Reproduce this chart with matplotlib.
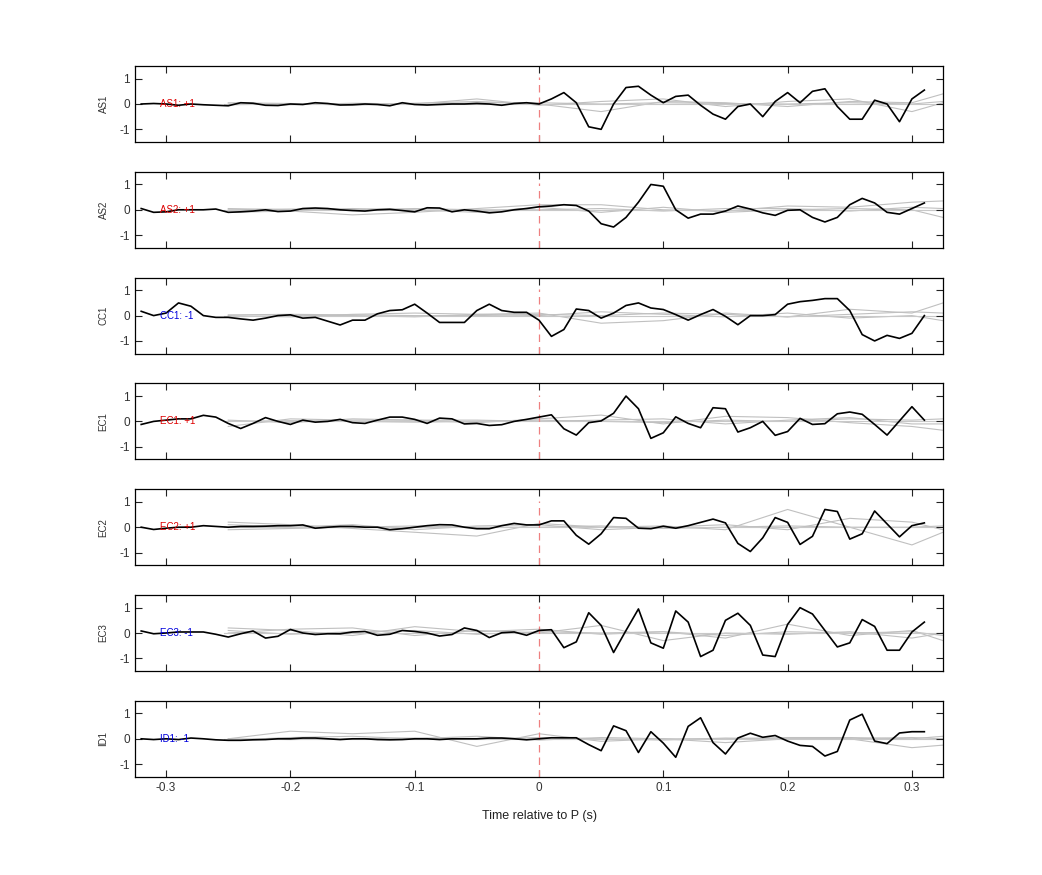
import matplotlib
matplotlib.use("Agg")
import matplotlib.pyplot as plt
import numpy as np

# time axis (s), sampled every 0.01 s
t = np.round(np.arange(-0.32, 0.315, 0.01), 2)
t_grey = [-0.25, -0.20, -0.15, -0.10, -0.05, 0.00, 0.05, 0.10, 0.15, 0.20, 0.25, 0.30, 0.325]

stations = ["AS1", "AS2", "CC1", "EC1", "EC2", "EC3", "ID1"]
polarity = [1, 1, -1, 1, 1, -1, -1]

as1 = [0.00, 0.02, 0.00, -0.05, 0.00, -0.03, -0.05, -0.07, 0.05, 0.03, -0.05, -0.06, 0.00,
       -0.02, 0.05, 0.02, -0.04, -0.03, 0.00, -0.02, -0.07, 0.05, -0.02, -0.04, -0.02,
       0.00, 0.00, 0.02, 0.00, -0.05, 0.02, 0.05, 0.00, 0.20, 0.45, 0.05, -0.90, -1.00,
       0.00, 0.65, 0.70, 0.35, 0.05, 0.30, 0.35, -0.05, -0.40, -0.60, -0.10, 0.00, -0.50,
       0.10, 0.45, 0.05, 0.50, 0.60, -0.10, -0.60, -0.60, 0.15, 0.00, -0.70, 0.20, 0.55]
as2 = [0.05, -0.10, -0.08, 0.00, 0.00, 0.00, 0.03, -0.10, -0.08, -0.05, 0.00, -0.07,
       -0.05, 0.05, 0.07, 0.05, 0.00, -0.03, -0.05, 0.00, 0.02, -0.03, -0.08, 0.08, 0.07,
       -0.08, 0.00, -0.05, -0.12, -0.08, 0.00, 0.05, 0.12, 0.15, 0.20, 0.17, -0.05, -0.55,
       -0.68, -0.30, 0.30, 1.00, 0.93, 0.00, -0.33, -0.17, -0.17, -0.05, 0.15, 0.03,
       -0.12, -0.22, -0.02, 0.00, -0.30, -0.48, -0.30, 0.20, 0.45, 0.27, -0.10, -0.17,
       0.05, 0.27]
cc1 = [0.17, 0.00, 0.10, 0.50, 0.37, 0.00, -0.07, -0.07, -0.13, -0.18, -0.10, 0.00,
       0.03, -0.10, -0.07, -0.22, -0.37, -0.18, -0.18, 0.07, 0.20, 0.23, 0.45, 0.10, -0.27,
       -0.27, -0.27, 0.20, 0.45, 0.20, 0.13, 0.13, -0.18, -0.82, -0.55, 0.26, 0.20, -0.10,
       0.10, 0.40, 0.50, 0.30, 0.24, 0.04, -0.18, 0.04, 0.24, -0.03, -0.36, 0.00, 0.00,
       0.04, 0.45, 0.55, 0.60, 0.67, 0.67, 0.20, -0.75, -1.00, -0.78, -0.90, -0.70, 0.00]
ec1 = [-0.12, 0.00, 0.05, 0.10, 0.10, 0.24, 0.17, -0.08, -0.28, -0.08, 0.15, 0.00,
       -0.12, 0.05, -0.03, 0.00, 0.08, -0.05, -0.08, 0.05, 0.17, 0.17, 0.08, -0.08, 0.13,
       0.10, -0.10, -0.08, -0.16, -0.13, 0.00, 0.08, 0.17, 0.26, -0.29, -0.54, -0.05, 0.02,
       0.32, 1.00, 0.50, -0.67, -0.45, 0.18, -0.08, -0.25, 0.54, 0.50, -0.42, -0.25, 0.00,
       -0.55, -0.40, 0.12, -0.12, -0.09, 0.30, 0.37, 0.28, -0.12, -0.54, 0.02, 0.58, 0.05]
ec2 = [0.00, -0.09, -0.04, 0.00, 0.00, 0.06, 0.03, 0.00, 0.03, 0.03, 0.04, 0.06, 0.06,
       0.09, -0.04, 0.00, 0.03, 0.03, 0.00, 0.00, -0.10, -0.06, 0.00, 0.06, 0.10, 0.09,
       0.00, -0.06, -0.06, 0.06, 0.15, 0.09, 0.09, 0.25, 0.25, -0.32, -0.67, -0.26, 0.38,
       0.35, -0.04, -0.06, 0.04, -0.04, 0.06, 0.19, 0.32, 0.17, -0.64, -0.96, -0.42, 0.38,
       0.19, -0.68, -0.36, 0.70, 0.62, -0.47, -0.26, 0.64, 0.13, -0.38, 0.06, 0.17]
ec3 = [0.08, -0.03, 0.00, 0.04, 0.04, 0.04, -0.05, -0.16, -0.03, 0.08, -0.20, -0.13,
       0.14, 0.00, -0.06, -0.03, -0.03, 0.04, 0.06, -0.09, -0.05, 0.10, 0.06, 0.00, -0.12,
       -0.06, 0.20, 0.10, -0.18, 0.01, 0.04, -0.09, 0.10, 0.13, -0.58, -0.35, 0.80, 0.30,
       -0.77, 0.10, 0.95, -0.39, -0.60, 0.87, 0.43, -0.93, -0.68, 0.50, 0.78, 0.30, -0.87,
       -0.93, 0.34, 1.00, 0.75, 0.10, -0.55, -0.39, 0.53, 0.26, -0.68, -0.68, 0.04, 0.43]
id1 = [0.00, -0.03, 0.00, -0.03, 0.03, 0.00, -0.04, -0.06, -0.06, -0.04, -0.03, 0.00,
       0.00, 0.03, 0.03, 0.00, -0.03, 0.00, 0.00, -0.03, -0.04, -0.03, 0.00, 0.00, -0.03,
       0.00, 0.00, 0.00, 0.03, 0.03, 0.00, -0.04, 0.00, 0.04, 0.04, 0.04, -0.23, -0.47,
       0.51, 0.32, -0.54, 0.28, -0.17, -0.73, 0.49, 0.83, -0.15, -0.60, 0.03, 0.22, 0.06,
       0.13, -0.09, -0.26, -0.30, -0.68, -0.50, 0.74, 0.97, -0.09, -0.19, 0.23, 0.28, 0.28]
traces = [as1, as2, cc1, ec1, ec2, ec3, id1]

# grey comparison traces at t_grey
grey_as1 = [[0.05, 0.02, -0.05, 0.03, 0.10, 0.00, -0.30, 0.10, 0.05, -0.10, 0.10, 0.05, 0.40],
            [0.00, -0.03, 0.03, 0.00, 0.20, -0.05, 0.10, 0.20, -0.10, 0.10, 0.20, -0.30, 0.05],
            [-0.03, 0.00, 0.00, -0.02, 0.05, 0.05, 0.00, 0.05, 0.02, 0.00, 0.05, 0.00, 0.10]]
grey_as2 = [[-0.10, -0.05, -0.20, -0.10, 0.05, 0.20, 0.20, 0.00, -0.05, 0.15, 0.10, 0.30, 0.35],
            [0.05, 0.00, 0.05, 0.00, -0.10, 0.10, -0.10, 0.10, -0.10, 0.00, 0.05, 0.00, -0.30],
            [0.00, 0.03, 0.00, 0.05, 0.00, 0.00, 0.05, -0.05, 0.05, 0.05, -0.05, 0.10, 0.05]]
grey_cc1 = [[0.00, -0.05, 0.05, 0.10, 0.05, 0.10, -0.30, -0.20, 0.10, -0.05, 0.25, 0.10, 0.50],
            [-0.05, 0.00, 0.00, -0.05, 0.05, 0.00, 0.15, 0.05, -0.05, 0.10, -0.10, 0.00, -0.20],
            [0.03, 0.05, 0.03, 0.00, 0.00, 0.05, 0.00, 0.10, 0.05, -0.05, 0.05, 0.15, 0.10]]
grey_ec1 = [[-0.20, 0.10, 0.05, 0.05, -0.05, 0.10, 0.25, -0.10, 0.20, 0.15, -0.05, -0.20, -0.35],
            [0.05, -0.05, 0.10, 0.05, 0.05, 0.00, 0.05, 0.10, -0.10, 0.05, 0.15, -0.10, -0.10],
            [0.00, 0.03, 0.00, -0.03, 0.00, 0.05, 0.00, -0.05, 0.05, 0.00, 0.10, 0.05, 0.10]]
grey_ec2 = [[0.20, 0.10, -0.05, -0.20, -0.35, 0.15, 0.00, 0.05, -0.10, 0.70, 0.00, -0.70, -0.20],
            [0.10, 0.00, 0.10, -0.10, 0.05, 0.10, -0.10, 0.00, 0.10, -0.10, 0.35, 0.20, -0.10],
            [-0.10, -0.05, 0.00, 0.05, 0.00, 0.00, 0.05, -0.05, 0.00, 0.05, 0.00, 0.00, 0.05]]
grey_ec3 = [[0.20, 0.10, -0.10, 0.25, 0.05, 0.15, -0.05, 0.05, -0.20, 0.35, -0.10, 0.10, -0.30],
            [0.00, 0.15, 0.20, -0.10, 0.10, 0.00, 0.30, -0.30, 0.00, -0.05, 0.05, -0.20, 0.00],
            [0.10, -0.05, 0.05, 0.10, -0.05, 0.05, 0.00, 0.05, -0.10, 0.05, 0.00, 0.05, -0.10]]
grey_id1 = [[0.00, 0.30, 0.20, 0.30, -0.30, 0.20, -0.10, 0.00, -0.15, 0.00, 0.00, -0.35, -0.25],
            [-0.05, 0.05, 0.10, 0.00, 0.10, -0.05, 0.05, 0.00, 0.00, 0.05, 0.05, 0.00, 0.10],
            [0.00, -0.03, 0.00, 0.03, 0.00, 0.05, 0.00, -0.05, 0.03, 0.00, 0.00, 0.05, 0.00]]
greys = [grey_as1, grey_as2, grey_cc1, grey_ec1, grey_ec2, grey_ec3, grey_id1]

plt.rcParams["font.family"] = ["Liberation Sans", "DejaVu Sans"]
plt.rcParams["axes.unicode_minus"] = False
fig = plt.figure(figsize=(10.42, 8.75), dpi=100)
W, H = 1042, 875
left, right = 135 / W, 943 / W
for i, (name, pol, tr, gr) in enumerate(zip(stations, polarity, traces, greys)):
    top_px = 66 + i * 105.8
    ax = fig.add_axes([left, 1 - (top_px + 76) / H, right - left, 76 / H])
    for g in gr:
        ax.plot(t_grey, g, color="#c0c0c0", lw=0.8, zorder=1)
    ax.axhline(0, color="#c8c8c8", lw=0.8, xmin=0.11, zorder=1)
    ax.axvline(0, color="#ee8080", lw=0.9, dashes=(6, 4), ymax=0.85, zorder=2)
    ax.plot(t, tr, color="black", lw=1.2, zorder=3)
    col = "#dd0000" if pol > 0 else "#0000dd"
    label = f"{name}: +1" if pol > 0 else f"{name}: -1"
    ax.text(-0.305, 0, label, color=col, fontsize=7, va="center", ha="left", zorder=4)
    ax.set_xlim(-0.325, 0.325)
    ax.set_ylim(-1.5, 1.5)
    ax.set_yticks([-1, 0, 1])
    ax.set_xticks([-0.3, -0.2, -0.1, 0, 0.1, 0.2, 0.3])
    ax.tick_params(direction="in", top=True, right=True, labelsize=8.5,
                   length=5, colors="#222222", labelcolor="#333333")
    ax.set_ylabel(name, fontsize=7, color="#333333", labelpad=8)
    for s in ax.spines.values():
        s.set_linewidth(0.9)
    if i < len(stations) - 1:
        ax.set_xticklabels([])
    else:
        ax.set_xticklabels(["-0.3", "-0.2", "-0.1", "0", "0.1", "0.2", "0.3"])
        ax.set_xlabel("Time relative to P (s)", fontsize=9, color="#222222", labelpad=12)

fig.savefig("out.png", dpi=100)
